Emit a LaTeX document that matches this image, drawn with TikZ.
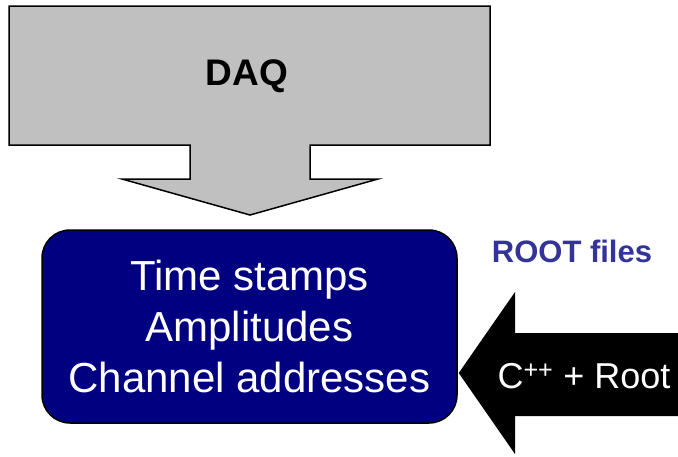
\documentclass[tikz,border=0pt]{standalone}
\usepackage{fontspec}
\setmainfont{Liberation Sans}
\usepackage{tikz}
\usetikzlibrary{calc}
\definecolor{boxblue}{HTML}{000080}
\definecolor{daqgray}{HTML}{C0C0C0}
\definecolor{labelblue}{HTML}{333399}
\tikzstyle{bigarrow} = [draw, line width=1.5pt, fill=daqgray, line join=miter]
\tikzstyle{datablock} = [draw, line width=1.5pt, fill=boxblue, rectangle, rounded corners=28pt, text=white, align=center, minimum width=415pt, minimum height=193pt, font=\fontsize{42}{51}\selectfont]
\tikzstyle{title} = [font=\bfseries\fontsize{37}{44}\selectfont, inner sep=0pt]

\begin{document}
\begin{tikzpicture}[x=1pt, y=-1pt]
        \useasboundingbox (0,0) rectangle (678,456);
        % gray DAQ arrow
        \path[bigarrow] (9,6) -- (490,6) -- (490,145) -- (310,145) -- (310,179) -- (378,179)
            -- (250,215) -- (122,179) -- (190,179) -- (190,145) -- (9,145) -- cycle;
        \node[title] (daq) at (247,76) {DAQ};
        \node[datablock] (data) at (249.5,326.5) {Time stamps\\Amplitudes\\Channel addresses};
        \node[title, text=labelblue, font=\bfseries\fontsize{31}{37}\selectfont] (files) at (572,251) {ROOT files};
        % black arrow from the right
        \coordinate (tip) at ($(data.east)+(1,46.5)$);
        \fill (tip) -- (515,292) -- (515,333) -- (678,333) -- (678,416) -- (515,416) -- (515,454) -- cycle;
        \node[text=white, anchor=base, inner sep=0pt, font=\fontsize{36}{43}\selectfont] (code) at (584,388) {C\textsuperscript{++} + Root};
    \end{tikzpicture}
\end{document}
